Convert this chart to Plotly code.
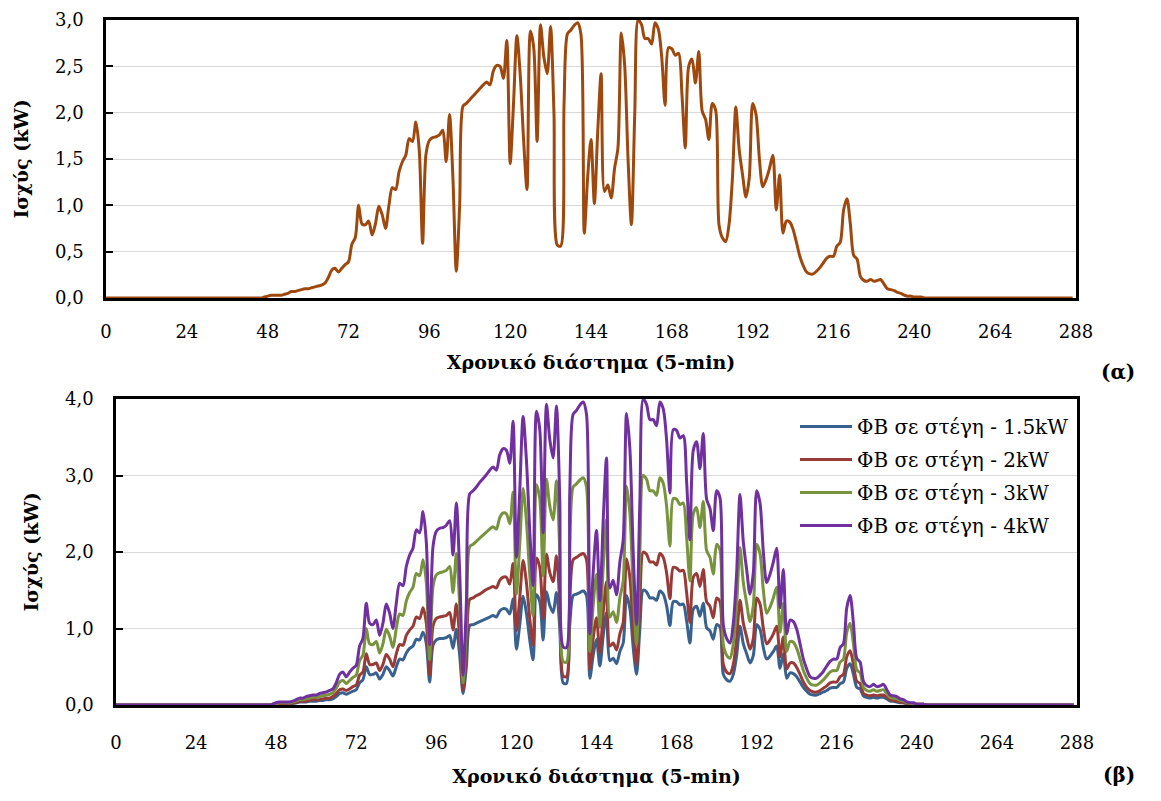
import plotly.graph_objects as go

# ---------------- data (5-min intervals, 0..287) ----------------
lead_zeros = [0.0] * 47      # intervals 0..46
tail_zeros = [0.0] * 45      # intervals 243..287

# (α) PV power profile, kW, intervals 47..242
pv_alpha = [
    0.01, 0.02, 0.03, 0.03, 0.03, 0.03, 0.04, 0.05, 0.07, 0.07,
    0.08, 0.09, 0.10, 0.10, 0.11, 0.12, 0.13, 0.14, 0.16, 0.22,
    0.30, 0.32, 0.28, 0.32, 0.36, 0.39, 0.58, 0.65, 1.00, 0.80,
    0.79, 0.83, 0.68, 0.80, 0.99, 0.90, 0.75, 1.00, 1.19, 1.17,
    1.36, 1.47, 1.54, 1.72, 1.69, 1.90, 1.60, 0.59, 1.55, 1.70,
    1.73, 1.74, 1.76, 1.81, 1.47, 1.98, 1.30, 0.29, 1.00, 2.07,
    2.10, 2.14, 2.18, 2.22, 2.26, 2.30, 2.33, 2.30, 2.45, 2.51,
    2.50, 2.37, 2.78, 1.45, 2.10, 2.83, 2.40, 1.70, 1.17, 2.88,
    2.70, 1.69, 2.95, 2.60, 2.42, 2.93, 2.00, 0.57, 0.56, 2.10,
    2.85, 2.89, 2.94, 2.97, 2.85, 0.70, 1.30, 1.71, 1.02, 1.80,
    2.42, 1.15, 1.22, 1.08, 1.40, 1.62, 2.86, 2.51, 1.50, 0.79,
    2.00, 3.00, 2.95, 2.80, 2.80, 2.74, 2.97, 2.90, 2.60, 2.08,
    2.70, 2.69, 2.62, 2.64, 2.20, 1.62, 2.50, 2.58, 2.32, 2.66,
    2.02, 1.93, 1.71, 2.10, 2.03, 0.79, 0.65, 0.61, 0.80, 1.30,
    2.06, 1.60, 1.33, 1.09, 1.30, 2.10, 1.98, 1.50, 1.20, 1.28,
    1.40, 1.54, 0.95, 1.33, 0.70, 0.83, 0.82, 0.74, 0.60, 0.45,
    0.35, 0.28, 0.26, 0.26, 0.29, 0.33, 0.38, 0.43, 0.45, 0.45,
    0.56, 0.60, 0.95, 1.07, 0.80, 0.46, 0.42, 0.23, 0.19, 0.18,
    0.20, 0.18, 0.19, 0.20, 0.15, 0.10, 0.09, 0.08, 0.06, 0.05,
    0.03, 0.02, 0.02, 0.01, 0.01, 0.01,
]

pv_1_5kw = [
    0.01, 0.01, 0.02, 0.02, 0.02, 0.02, 0.02, 0.03, 0.04, 0.04,
    0.04, 0.05, 0.05, 0.05, 0.06, 0.06, 0.07, 0.07, 0.08, 0.11,
    0.15, 0.16, 0.14, 0.16, 0.18, 0.20, 0.29, 0.33, 0.50, 0.40,
    0.40, 0.42, 0.34, 0.40, 0.50, 0.45, 0.38, 0.50, 0.60, 0.59,
    0.68, 0.74, 0.77, 0.86, 0.85, 0.95, 0.80, 0.30, 0.78, 0.85,
    0.87, 0.87, 0.88, 0.91, 0.74, 0.99, 0.65, 0.15, 0.50, 1.04,
    1.05, 1.07, 1.09, 1.11, 1.13, 1.15, 1.17, 1.15, 1.23, 1.26,
    1.25, 1.19, 1.39, 0.73, 1.05, 1.42, 1.20, 0.85, 0.59, 1.44,
    1.35, 0.85, 1.48, 1.30, 1.21, 1.47, 1.00, 0.29, 0.28, 1.05,
    1.43, 1.45, 1.47, 1.49, 1.43, 0.35, 0.65, 0.86, 0.51, 0.90,
    1.21, 0.58, 0.61, 0.54, 0.70, 0.81, 1.43, 1.26, 0.75, 0.40,
    1.00, 1.50, 1.48, 1.40, 1.40, 1.37, 1.49, 1.45, 1.30, 1.04,
    1.35, 1.35, 1.31, 1.32, 1.10, 0.81, 1.25, 1.29, 1.16, 1.33,
    1.01, 0.97, 0.86, 1.05, 1.02, 0.40, 0.33, 0.31, 0.40, 0.65,
    1.03, 0.80, 0.67, 0.55, 0.65, 1.05, 0.99, 0.75, 0.60, 0.64,
    0.70, 0.77, 0.48, 0.67, 0.35, 0.42, 0.41, 0.37, 0.30, 0.23,
    0.18, 0.14, 0.13, 0.13, 0.15, 0.17, 0.19, 0.22, 0.23, 0.23,
    0.28, 0.30, 0.48, 0.54, 0.40, 0.23, 0.21, 0.12, 0.10, 0.09,
    0.10, 0.09, 0.10, 0.10, 0.08, 0.05, 0.05, 0.04, 0.03, 0.03,
    0.02, 0.01, 0.01, 0.01, 0.01, 0.01,
]

pv_2kw = [
    0.01, 0.01, 0.02, 0.02, 0.02, 0.02, 0.03, 0.03, 0.05, 0.05,
    0.05, 0.06, 0.07, 0.07, 0.07, 0.08, 0.09, 0.09, 0.11, 0.15,
    0.20, 0.21, 0.19, 0.21, 0.24, 0.26, 0.39, 0.43, 0.67, 0.53,
    0.53, 0.55, 0.45, 0.53, 0.66, 0.60, 0.50, 0.67, 0.79, 0.78,
    0.91, 0.98, 1.03, 1.15, 1.13, 1.27, 1.07, 0.39, 1.03, 1.13,
    1.15, 1.16, 1.17, 1.21, 0.98, 1.32, 0.87, 0.19, 0.67, 1.38,
    1.40, 1.43, 1.45, 1.48, 1.51, 1.53, 1.55, 1.53, 1.63, 1.67,
    1.67, 1.58, 1.85, 0.97, 1.40, 1.89, 1.60, 1.13, 0.78, 1.92,
    1.80, 1.13, 1.97, 1.73, 1.61, 1.95, 1.33, 0.38, 0.37, 1.40,
    1.90, 1.93, 1.96, 1.98, 1.90, 0.47, 0.87, 1.14, 0.68, 1.20,
    1.61, 0.77, 0.81, 0.72, 0.93, 1.08, 1.91, 1.67, 1.00, 0.53,
    1.33, 2.00, 1.97, 1.87, 1.87, 1.83, 1.98, 1.93, 1.73, 1.39,
    1.80, 1.79, 1.75, 1.76, 1.47, 1.08, 1.67, 1.72, 1.55, 1.77,
    1.35, 1.29, 1.14, 1.40, 1.35, 0.53, 0.43, 0.41, 0.53, 0.87,
    1.37, 1.07, 0.89, 0.73, 0.87, 1.40, 1.32, 1.00, 0.80, 0.85,
    0.93, 1.03, 0.63, 0.89, 0.47, 0.55, 0.55, 0.49, 0.40, 0.30,
    0.23, 0.19, 0.17, 0.17, 0.19, 0.22, 0.25, 0.29, 0.30, 0.30,
    0.37, 0.40, 0.63, 0.71, 0.53, 0.31, 0.28, 0.15, 0.13, 0.12,
    0.13, 0.12, 0.13, 0.13, 0.10, 0.07, 0.06, 0.05, 0.04, 0.03,
    0.02, 0.01, 0.01, 0.01, 0.01, 0.01,
]

pv_3kw = pv_alpha  # the 3 kW rooftop PV is the profile shown in (α)

pv_4kw = [
    0.01, 0.03, 0.04, 0.04, 0.04, 0.04, 0.05, 0.07, 0.09, 0.09,
    0.11, 0.12, 0.13, 0.13, 0.15, 0.16, 0.17, 0.19, 0.21, 0.29,
    0.40, 0.43, 0.37, 0.43, 0.48, 0.52, 0.77, 0.87, 1.33, 1.07,
    1.05, 1.11, 0.91, 1.07, 1.32, 1.20, 1.00, 1.33, 1.59, 1.56,
    1.81, 1.96, 2.05, 2.29, 2.25, 2.53, 2.13, 0.79, 2.07, 2.27,
    2.31, 2.32, 2.35, 2.41, 1.96, 2.64, 1.73, 0.39, 1.33, 2.76,
    2.80, 2.85, 2.91, 2.96, 3.01, 3.07, 3.11, 3.07, 3.27, 3.35,
    3.33, 3.16, 3.71, 1.93, 2.80, 3.77, 3.20, 2.27, 1.56, 3.84,
    3.60, 2.25, 3.93, 3.47, 3.23, 3.91, 2.67, 0.76, 0.75, 2.80,
    3.80, 3.85, 3.92, 3.96, 3.80, 0.93, 1.73, 2.28, 1.36, 2.40,
    3.23, 1.53, 1.63, 1.44, 1.87, 2.16, 3.81, 3.35, 2.00, 1.05,
    2.67, 4.00, 3.93, 3.73, 3.73, 3.65, 3.96, 3.87, 3.47, 2.77,
    3.60, 3.59, 3.49, 3.52, 2.93, 2.16, 3.33, 3.44, 3.09, 3.55,
    2.69, 2.57, 2.28, 2.80, 2.71, 1.05, 0.87, 0.81, 1.07, 1.73,
    2.75, 2.13, 1.77, 1.45, 1.73, 2.80, 2.64, 2.00, 1.60, 1.71,
    1.87, 2.05, 1.27, 1.77, 0.93, 1.11, 1.09, 0.99, 0.80, 0.60,
    0.47, 0.37, 0.35, 0.35, 0.39, 0.44, 0.51, 0.57, 0.60, 0.60,
    0.75, 0.80, 1.27, 1.43, 1.07, 0.61, 0.56, 0.31, 0.25, 0.24,
    0.27, 0.24, 0.25, 0.27, 0.20, 0.13, 0.12, 0.11, 0.08, 0.07,
    0.04, 0.03, 0.03, 0.01, 0.01, 0.01,
]

x_ticks = [0, 24, 48, 72, 96, 120, 144, 168, 192, 216, 240, 264, 288]
series_names = ["ΦΒ σε στέγη - 1.5kW", "ΦΒ σε στέγη - 2kW",
                "ΦΒ σε στέγη - 3kW", "ΦΒ σε στέγη - 4kW"]
series_colors = ["#38618F", "#983A37", "#77933C", "#7030A0"]
x_title = "Χρονικό διάστημα (5-min)"
y_title = "Ισχύς (kW)"

# ---------------- figure ----------------
W, H = 1161, 801
OFF = 8  # page body margin in the browser
FONT = "DejaVu Serif"
x_vals = list(range(288))

def full(seg):
    return lead_zeros + seg + tail_zeros

fig = go.Figure()

fig.add_trace(go.Scatter(
    x=x_vals, y=full(pv_alpha), mode="lines", xaxis="x", yaxis="y",
    line=dict(color="#9E480E", width=3, shape="spline", smoothing=0.8),
    showlegend=False, hoverinfo="x+y"))

for name, seg, col in zip(series_names, [pv_1_5kw, pv_2kw, pv_3kw, pv_4kw], series_colors):
    fig.add_trace(go.Scatter(
        x=x_vals, y=full(seg), mode="lines", name=name, xaxis="x2", yaxis="y2",
        legendgroup=name,
        line=dict(color=col, width=3, shape="spline", smoothing=0.8)))

def px_x(p):
    return (p - OFF) / W

def px_y(p):
    return 1 - (p - OFF) / H

title_font = dict(family=FONT, size=19, color="black")
axis_common = dict(showline=True, linecolor="black", linewidth=2.5, mirror=True,
                   tickfont=dict(family=FONT, size=18, color="black"),
                   zeroline=False, automargin=False)

fig.update_layout(
    width=W, height=H,
    margin=dict(l=0, r=0, t=0, b=0, autoexpand=False),
    paper_bgcolor="white", plot_bgcolor="white",
    separators=",.",
    font=dict(family=FONT, size=18, color="black"),
    xaxis=dict(domain=[px_x(106), px_x(1076)], range=[0, 288], tickvals=x_ticks,
               showgrid=False, ticks="", anchor="y", ticklabelstandoff=16,
               title=dict(text="<b>" + x_title + "</b>", font=title_font, standoff=15),
               **axis_common),
    yaxis=dict(domain=[px_y(298), px_y(20)], range=[0, 3.0], dtick=0.5,
               tickformat=".1f", showgrid=True, gridcolor="#d9d9d9", gridwidth=1,
               ticks="inside", ticklen=7, tickwidth=2, tickcolor="black",
               anchor="x", ticklabelstandoff=16,
               title=dict(text="<b>" + y_title + "</b>", font=title_font, standoff=22),
               **axis_common),
    xaxis2=dict(domain=[px_x(116), px_x(1077)], range=[0, 288], tickvals=x_ticks,
                showgrid=False, ticks="", anchor="y2", ticklabelstandoff=20,
                title=dict(text="<b>" + x_title + "</b>", font=title_font, standoff=18),
                **axis_common),
    yaxis2=dict(domain=[px_y(705), px_y(399)], range=[0, 4.0], dtick=1.0,
                tickformat=".1f", showgrid=True, gridcolor="#d9d9d9", gridwidth=1,
                ticks="inside", ticklen=7, tickwidth=2, tickcolor="black",
                anchor="x2", ticklabelstandoff=16,
                title=dict(text="<b>" + y_title + "</b>", font=title_font, standoff=22),
                **axis_common),
    legend=dict(x=px_x(795), y=px_y(407), xanchor="left", yanchor="top",
                bgcolor="rgba(0,0,0,0)", borderwidth=0,
                font=dict(family=FONT, size=20, color="black"),
                itemwidth=52, tracegroupgap=4, traceorder="grouped"),
    annotations=[
        dict(text="<b>(α)</b>", x=px_x(1137), y=px_y(372), xref="paper", yref="paper",
             showarrow=False, font=dict(family=FONT, size=20)),
        dict(text="<b>(β)</b>", x=px_x(1137), y=px_y(789), xref="paper", yref="paper",
             showarrow=False, font=dict(family=FONT, size=20)),
    ],
)

fig.write_html("out.html")
